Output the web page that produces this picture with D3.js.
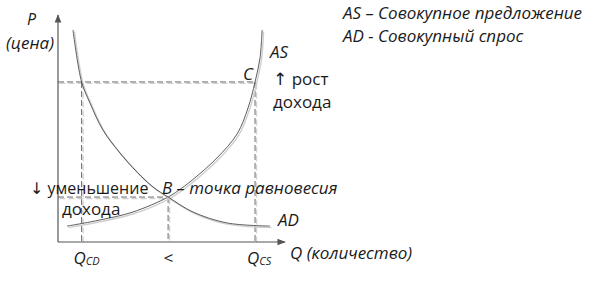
<!DOCTYPE html>
<html>
<head>
<meta charset="utf-8">
<script src="https://cdn.jsdelivr.net/npm/d3@7"></script>
<style>
  body { margin: 0; background: #fff; }
  text { font-family: "Open Sans", sans-serif; fill: #1a1a1a; }
  .it { font-style: italic; }
  .arrow { font-family: "DejaVu Sans", sans-serif; }
</style>
</head>
<body>
<div id="chart"></div>
<script>
// curve points (Q, P), both on a 0..100 scale
var asCurve = [[4, 7], [18.5, 9.7], [33, 13.2], [48.5, 19.8], [54.6, 23.8], [59.5, 27.6], [70, 37], [78.9, 47.6], [83.7, 59], [86.8, 70.5], [89, 81.1], [89.9, 93.4]];
var adCurve = [[6.6, 93.4], [10.4, 70.5], [14.1, 61.2], [19.8, 49.3], [27.3, 39.2], [34.8, 30.8], [41.9, 24.2], [48.5, 19.8], [59.5, 13.2], [74.4, 8.4], [93.4, 7]];
var pointB = [48.5, 19.8];
var pointC = [86.8, 70.5];
var qCD = 10.4;
var tickLabels = [{q: qCD, main: "Q", sub: "CD"}, {q: pointB[0], main: "<", sub: ""}, {q: pointC[0], main: "Q", sub: "CS"}];
var legendLines = ["AS – Совокупное предложение", "AD - Совокупный спрос"];

var width = 599, height = 283;
var svg = d3.select("#chart").append("svg")
  .attr("width", width).attr("height", height);

var x = d3.scaleLinear().domain([0, 100]).range([58, 285]);
var y = d3.scaleLinear().domain([0, 100]).range([242, 15]);

var defs = svg.append("defs");
defs.append("marker").attr("id", "arr")
  .attr("viewBox", "0 0 10 10").attr("refX", 9).attr("refY", 5)
  .attr("markerWidth", 7).attr("markerHeight", 7).attr("orient", "auto")
  .append("path").attr("d", "M0,1 L10,5 L0,9 Z").attr("fill", "#555");

var line = d3.line().x(function(d) { return x(d[0]); }).y(function(d) { return y(d[1]); })
  .curve(d3.curveCatmullRom.alpha(0.5));

// dashed guides (shadow + line)
var guides = [
  [[0, pointC[1]], pointC],
  [[qCD, pointC[1]], [qCD, 0]],
  [pointC, [pointC[0], 0]],
  [[0, pointB[1]], pointB],
  [pointB, [pointB[0], 0]]
];
guides.forEach(function(g) {
  svg.append("line")
    .attr("x1", x(g[0][0]) + 1.5).attr("y1", y(g[0][1]) + 1.5)
    .attr("x2", x(g[1][0]) + 1.5).attr("y2", y(g[1][1]) + 1.5)
    .attr("stroke", "#d0d0d0").attr("stroke-width", 1.3).attr("stroke-dasharray", "6,3");
  svg.append("line")
    .attr("x1", x(g[0][0])).attr("y1", y(g[0][1]))
    .attr("x2", x(g[1][0])).attr("y2", y(g[1][1]))
    .attr("stroke", "#6a6a6a").attr("stroke-width", 1).attr("stroke-dasharray", "6,3");
});

// curves with light shadow
[asCurve, adCurve].forEach(function(c) {
  svg.append("path").datum(c).attr("d", line)
    .attr("transform", "translate(1.5,1.5)")
    .attr("fill", "none").attr("stroke", "#cfcfcf").attr("stroke-width", 1.4);
  svg.append("path").datum(c).attr("d", line)
    .attr("fill", "none").attr("stroke", "#4a4a4a").attr("stroke-width", 0.9);
});

// axes
svg.append("line").attr("x1", x(0)).attr("y1", y(0)).attr("x2", x(0)).attr("y2", y(100))
  .attr("stroke", "#555").attr("stroke-width", 1.2).attr("marker-end", "url(#arr)");
svg.append("line").attr("x1", x(0)).attr("y1", y(0)).attr("x2", x(100)).attr("y2", y(0))
  .attr("stroke", "#555").attr("stroke-width", 1.2).attr("marker-end", "url(#arr)");

// tick labels on Q axis
tickLabels.forEach(function(t) {
  var tx = svg.append("text").attr("y", 264).attr("class", "it").style("font-size", "17px");
  if (t.sub) {
    tx.attr("x", x(t.q) - 8);
    tx.append("tspan").text(t.main);
    tx.append("tspan").attr("dy", 1).style("font-size", "11px").text(t.sub);
  } else {
    tx.attr("x", x(t.q)).attr("text-anchor", "middle").text(t.main);
  }
});

function label(txt, px, py, italic, size) {
  return svg.append("text").attr("x", px).attr("y", py)
    .attr("class", italic ? "it" : null).style("font-size", (size || 17) + "px").text(txt);
}

function arrowLabel(arrow, txt, px, py, size) {
  var t = svg.append("text").attr("x", px).attr("y", py).style("font-size", (size || 17) + "px");
  t.append("tspan").attr("class", "arrow").text(arrow);
  t.append("tspan").text(" " + txt);
  return t;
}

label("P", 27, 25, true, 16);
label("(цена)", 6, 49, true);
label("AS", 270, 58, true);
label("C", x(pointC[0]) - 12, 80, true);
arrowLabel("↑", "рост", 273, 85);
label("дохода", 273, 108, false);
arrowLabel("↓", "уменьшение", 30, 194, 16);
label("B – точка равновесия", 162, 194, true);
label("дохода", 62, 215, false);
label("AD", 278, 226, true);
label("Q (количество)", 290, 259, true);

legendLines.forEach(function(l, i) {
  label(l, 343, 19 + i * 23, true);
});
</script>
</body>
</html>
